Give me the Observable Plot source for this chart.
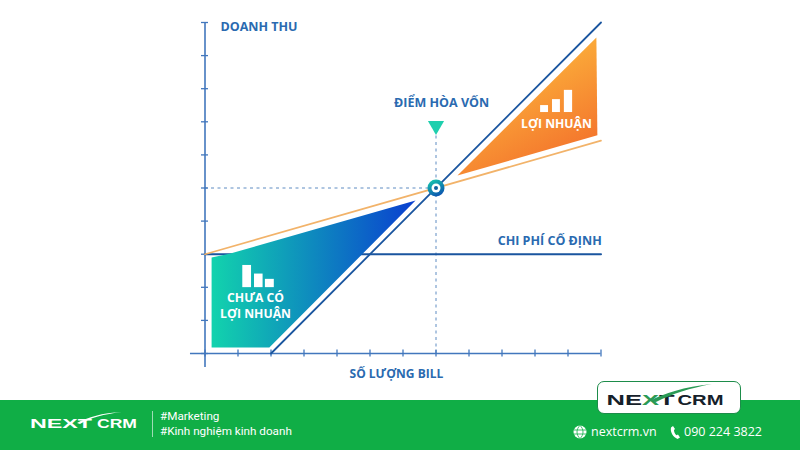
<!DOCTYPE html>
<html><head><meta charset="utf-8">
<script src="https://cdn.jsdelivr.net/npm/d3@7"></script>
<script src="https://cdn.jsdelivr.net/npm/@observablehq/plot@0.6"></script>
<style>
html,body{margin:0;padding:0;background:#fff;width:800px;height:450px;overflow:hidden}
#wrap{position:relative;width:800px;height:450px}
#chart svg{display:block;overflow:visible}
#footer{position:absolute;left:0;top:400px;width:800px;height:50px;background:#10ae46;color:#fff}
.abs{position:absolute;white-space:nowrap}
#box{position:absolute;left:597px;top:381px;width:142px;height:31px;background:#fff;border:1.5px solid #1d8c4a;border-radius:7px}
</style></head><body>
<div id="wrap"><div id="chart"></div>
<div id="footer">
<svg class="abs" style="left:28px;top:10px" width="112" height="28" viewBox="0 0 112 28">
<text x="2" y="18" font-family="Liberation Sans" font-weight="700" font-size="12.5" fill="#fff" textLength="62" lengthAdjust="spacingAndGlyphs">NEXT</text>
<text x="69" y="18" font-family="Liberation Sans" font-weight="700" font-size="12.5" fill="#fff" textLength="40" lengthAdjust="spacingAndGlyphs">CRM</text>
<path d="M49 13C60 7 74 3 94 2C76 4 62 8 52 14Z" fill="#fff"/></svg>
<div class="abs" style="left:152px;top:11px;width:1px;height:26px;background:#9edcb5"></div>
<div class="abs" style="left:160px;top:9px;font:11.7px/15px Roboto">#Marketing</div>
<div class="abs" style="left:160px;top:24px;font:11.7px/15px Roboto">#Kinh nghiệm kinh doanh</div>
<svg class="abs" style="left:573px;top:25px" width="14" height="14" viewBox="0 0 14 14"><circle cx="7" cy="7" r="6.5" fill="#fff"/><path d="M0.5 5H13.5M0.5 9H13.5M7 .5C3 4 3 10 7 13.5C11 10 11 4 7 .5" stroke="#10ae46" stroke-width=".8" fill="none"/></svg>
<div class="abs" style="left:591px;top:24px;font:500 12.5px/16px 'Open Sans'">nextcrm.vn</div>
<svg class="abs" style="left:670px;top:25px" width="11" height="15" viewBox="0 0 11 15"><path d="M3 1L1 2.500C0 7 3 12 7.500 14L10 12.500L8 9.500L6.500 10.300C5 9 4 7 4 5L5 4Z" fill="#fff"/></svg>
<div class="abs" style="left:684px;top:24px;font:500 12.5px/16px 'Open Sans'">090 224 3822</div>
</div>
<div id="box"><svg width="142" height="31" viewBox="0 0 142 31">
<text x="8.500" y="23" font-family="Liberation Sans" font-weight="700" font-size="15" fill="#15202a" textLength="68" lengthAdjust="spacingAndGlyphs">NE<tspan fill="#2a9a55">X</tspan>T</text>
<text x="79.500" y="23" font-family="Liberation Sans" font-weight="700" font-size="15" fill="#15202a" textLength="46" lengthAdjust="spacingAndGlyphs">CRM</text>
<path d="M52 19C66 11 86 5 114 2C92 6 74 12 58 20Z" fill="#2a9a55"/></svg></div>
</div>
<script>
const xTicks = [0,1,2,3,4,5,6,7,8,9,10,11,12];
const yTicks = [0,1,2,3,4,5,6,7,8,9,10];
const revenueX = [2,12];
const revenueY = [0,10];
const costX = [0,12];
const costY = [3,6.43];
const fixedX = [0,12];
const fixedY = [3,3];
const breakX = 7;
const breakY = 5;
const lossX = [0.2,0.77,6.38,1.95,0.2];
const lossY = [2.9,3.02,4.62,0.18,0.18];
const profitX = [7.65,11.86,11.89];
const profitY = [5.38,9.55,6.59];
const lossBarX1 = [1.145,1.5,1.83];
const lossBarX2 = [1.41,1.76,2.1];
const lossBarTop = [2.66,2.4,2.24];
const lossBarBase = 1.99;
const profitBarX1 = [10.17,10.53,10.89];
const profitBarX2 = [10.41,10.77,11.14];
const profitBarTop = [7.49,7.67,7.95];
const profitBarBase = 7.28;
const blueLabels = ["DOANH THU","ĐIỂM HÒA VỐN","CHI PHÍ CỐ ĐỊNH","SỐ LƯỢNG BILL"];
const blueLabelX = [0.47,5.73,8.87,4.38];
const blueLabelY = [9.87,7.58,3.41,-0.63];
const blueLabelSize = [12.5,12.5,12.5,12];
const whiteLabels = ["CHƯA CÓ","LỢI NHUẬN","LỢI NHUẬN"];
const whiteLabelX = [1.53,1.53,10.65];
const whiteLabelY = [1.66,1.18,6.92];

const pts = (xs,ys)=>xs.map((x,i)=>({x,y:ys[i]}));
const blue="#2a6ab0", navy="#1a559f", axis="#4277bd", dash="#5f8cc2", orange="#f2b36a";
const defs = () => {
  const s = d3.create("svg:defs");
  const g1 = s.append("linearGradient").attr("id","gLoss").attr("x1",0).attr("x2",1).attr("y1",0).attr("y2",0);
  g1.append("stop").attr("offset",0).attr("stop-color","#12d3ad");
  g1.append("stop").attr("offset",1).attr("stop-color","#0a3fd0");
  const g2 = s.append("linearGradient").attr("id","gProfit").attr("x1",0.35).attr("x2",0.85).attr("y1",0.1).attr("y2",1);
  g2.append("stop").attr("offset",0).attr("stop-color","#fdbb3d");
  g2.append("stop").attr("offset",1).attr("stop-color","#f2692a");
  const g3 = s.append("linearGradient").attr("id","gDot").attr("x1",0.2).attr("x2",0.7).attr("y1",0).attr("y2",1);
  g3.append("stop").attr("offset",0).attr("stop-color","#17c7ad");
  g3.append("stop").attr("offset",1).attr("stop-color","#0c4fb0");
  return s.node();
};
const bars = (x1,x2,top,base)=>x1.map((v,i)=>({x1:v,x2:x2[i],y1:base,y2:top[i]}));
const labelData=(t,x,y,z)=>t.map((text,i)=>({text,x:x[i],y:y[i],size:z?z[i]:12.5}));

const chart = Plot.plot({
  width:800,height:400,
  marginLeft:204.5,marginRight:199.5,marginTop:22,marginBottom:47,
  style:{background:"transparent",overflow:"visible"},
  x:{domain:[0,12]},
  y:{domain:[0,10]},
  marks:[
    defs,
    Plot.ruleY([breakY],{x1:0,x2:breakX,stroke:dash,strokeWidth:1,strokeDasharray:"3 3.500"}),
    Plot.ruleX([breakX],{y1:0,y2:6.6,stroke:dash,strokeWidth:1,strokeDasharray:"3 3.500"}),
    Plot.ruleX([0],{y1:-0.42,y2:10,stroke:axis,strokeWidth:1.6}),
    Plot.ruleY([0],{x1:-0.44,x2:12,stroke:axis,strokeWidth:1.6}),
    Plot.axisX({anchor:"bottom",ticks:xTicks,tickSize:7,dy:-3.5,tickFormat:()=>"",label:null,stroke:axis,strokeWidth:1.3}),
    Plot.axisY({anchor:"left",ticks:yTicks,tickSize:7,dx:3.5,tickFormat:()=>"",label:null,stroke:axis,strokeWidth:1.3}),
    Plot.line(pts(fixedX,fixedY),{x:"x",y:"y",stroke:navy,strokeWidth:2}),
    Plot.line(pts(costX,costY),{x:"x",y:"y",stroke:orange,strokeWidth:1.7}),
    Plot.line(pts(revenueX,revenueY),{x:"x",y:"y",stroke:navy,strokeWidth:1.8}),
    Plot.line(pts(lossX,lossY),{x:"x",y:"y",fill:"url(#gLoss)",stroke:"none"}),
    Plot.line(pts(profitX,profitY),{x:"x",y:"y",fill:"url(#gProfit)",stroke:"none"}),
    Plot.rect(bars(lossBarX1,lossBarX2,lossBarTop,lossBarBase),{x1:"x1",x2:"x2",y1:"y1",y2:"y2",fill:"#fff"}),
    Plot.rect(bars(profitBarX1,profitBarX2,profitBarTop,profitBarBase),{x1:"x1",x2:"x2",y1:"y1",y2:"y2",fill:"#fff"}),
    Plot.dot([{x:breakX,y:6.88}],{x:"x",y:"y",symbol:"triangle",rotate:180,r:6,fill:"#1fcfae",stroke:"none"}),
    Plot.dot([{x:breakX,y:breakY}],{x:"x",y:"y",r:8.5,fill:"url(#gDot)",stroke:"none"}),
    Plot.dot([{x:breakX,y:breakY}],{x:"x",y:"y",r:4.5,fill:"#fff",stroke:"none"}),
    Plot.dot([{x:breakX,y:breakY}],{x:"x",y:"y",r:2,fill:"#12609f",stroke:"none"}),
    Plot.text(labelData(blueLabels,blueLabelX,blueLabelY,blueLabelSize),{x:"x",y:"y",text:"text",textAnchor:"start",fill:blue,fontSize:"size",fontWeight:700,fontFamily:"Open Sans"}),
    Plot.text(labelData(whiteLabels,whiteLabelX,whiteLabelY),{x:"x",y:"y",text:"text",textAnchor:"middle",fill:"#fff",fontSize:12.2,fontWeight:700,fontFamily:"Open Sans"})
  ]
});
document.getElementById("chart").append(chart);
</script></body></html>
